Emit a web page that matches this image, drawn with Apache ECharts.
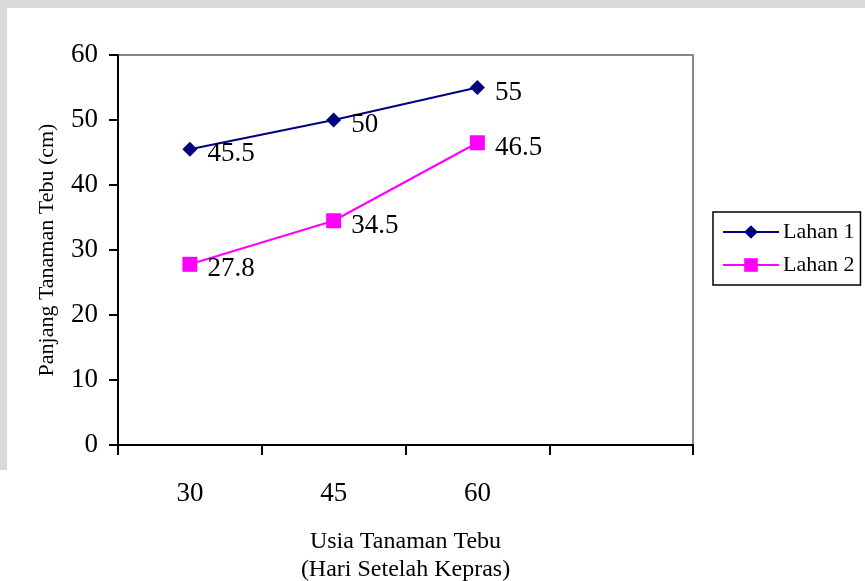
<!DOCTYPE html>
<html>
<head>
<meta charset="utf-8">
<script src="https://cdn.jsdelivr.net/npm/echarts@6/dist/echarts.min.js"></script>
<style>
  html, body { margin: 0; padding: 0; background: #ffffff; }
  #chart { width: 865px; height: 581px; }
</style>
</head>
<body>
<div id="chart"></div>
<script>
// Umur tanaman (hari setelah kepras); the fourth slot is left empty
const categories = ['30', '45', '60', ''];
const lahan1 = [45.5, 50, 55];
const lahan2 = [27.8, 34.5, 46.5];
const seriesNames = ['Lahan 1', 'Lahan 2'];
const yTicks = { min: 0, max: 60, interval: 10 };

const serif = '"Liberation Serif", "Times New Roman", serif';

const chart = echarts.init(document.getElementById('chart'), null, { renderer: 'canvas' });

const labelStyle = {
  show: true,
  position: 'right',
  distance: 10,
  offset: [0, 5],
  fontFamily: serif,
  fontSize: 27,
  color: '#000'
};

chart.setOption({
  backgroundColor: '#ffffff',
  animation: false,
  graphic: [
    // light grey frame along the top and left edges
    { type: 'rect', left: 0, top: 0, shape: { width: 865, height: 8 }, style: { fill: '#d9d9d9' }, silent: true },
    { type: 'rect', left: 0, top: 0, shape: { width: 7, height: 470 }, style: { fill: '#d9d9d9' }, silent: true }
  ],
  grid: {
    left: 118,
    top: 55,
    width: 575,
    height: 390,
    containLabel: false,
    outerBoundsMode: 'none',
    show: true,
    backgroundColor: 'transparent',
    borderColor: '#888888',
    borderWidth: 2
  },
  legend: {
    data: seriesNames,
    orient: 'vertical',
    left: 713,
    top: 212,
    itemWidth: 56,
    itemHeight: 17,
    itemGap: 11,
    padding: [9, 6, 9, 9],
    borderColor: '#000',
    borderWidth: 1.5,
    backgroundColor: '#fff',
    textStyle: { fontFamily: serif, fontSize: 22, color: '#000', padding: [0, 0, 0, -1] }
  },
  xAxis: {
    type: 'category',
    data: categories,
    boundaryGap: true,
    name: 'Usia Tanaman Tebu\n(Hari Setelah Kepras)',
    nameLocation: 'middle',
    nameGap: 83,
    nameTextStyle: { fontFamily: serif, fontSize: 24, color: '#000', lineHeight: 28 },
    axisLine: { show: true, lineStyle: { color: '#000', width: 2 } },
    axisTick: { show: true, length: 10, lineStyle: { color: '#000', width: 2 } },
    axisLabel: { fontFamily: serif, fontSize: 27, color: '#000', margin: 35 },
    splitLine: { show: false }
  },
  yAxis: {
    type: 'value',
    min: yTicks.min,
    max: yTicks.max,
    interval: yTicks.interval,
    name: 'Panjang Tanaman Tebu (cm)',
    nameLocation: 'middle',
    nameGap: 60,
    nameRotate: 90,
    nameTextStyle: { fontFamily: serif, fontSize: 22, color: '#000' },
    axisLine: { show: true, lineStyle: { color: '#000', width: 2 } },
    axisTick: { show: true, length: 9, lineStyle: { color: '#000', width: 2 } },
    axisLabel: { fontFamily: serif, fontSize: 27, color: '#000', margin: 20 },
    splitLine: { show: false }
  },
  series: [
    {
      name: seriesNames[0],
      type: 'line',
      data: lahan1,
      symbol: 'diamond',
      symbolSize: 15,
      color: '#000080',
      lineStyle: { color: '#000080', width: 2 },
      itemStyle: { color: '#000080' },
      label: labelStyle
    },
    {
      name: seriesNames[1],
      type: 'line',
      data: lahan2,
      symbol: 'rect',
      symbolSize: 15,
      color: '#ff00ff',
      lineStyle: { color: '#ff00ff', width: 2 },
      itemStyle: { color: '#ff00ff' },
      label: labelStyle
    }
  ]
});
</script>
</body>
</html>
